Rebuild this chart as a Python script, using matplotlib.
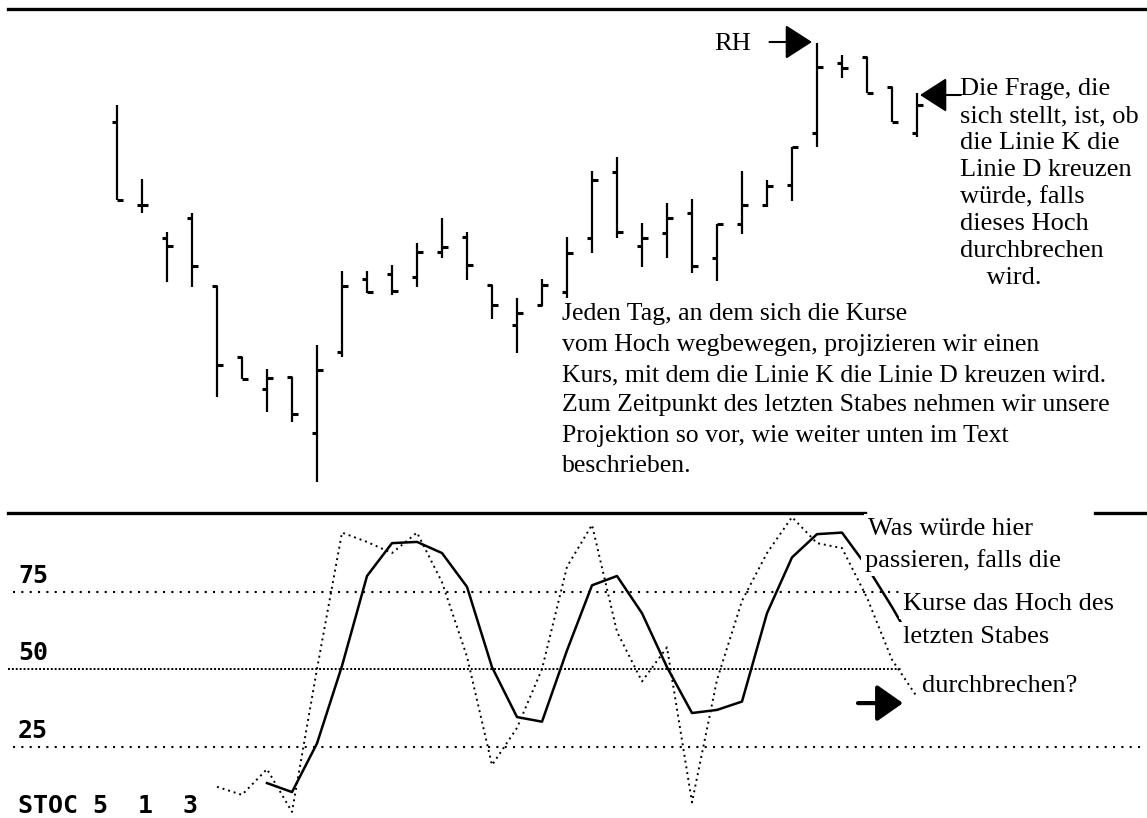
import matplotlib.pyplot as plt

W, H = 1147, 818
fig = plt.figure(figsize=(W / 100, H / 100), dpi=100)


def fx(x):
    return x / W


def fy(y):
    return 1 - y / H


# --- bar chart data (price units), one bar per day ---
high = [395, 321, 268, 287, 214, 143, 131, 123, 155, 229, 229, 235, 257, 282, 268, 215, 202,
        221, 263, 329, 343, 277, 297, 301, 276, 329, 320, 353, 457, 445, 443, 413, 407]
low = [300, 287, 218, 213, 103, 121, 88, 78, 18, 143, 207, 205, 213, 242, 220, 181, 147,
       194, 202, 247, 262, 233, 242, 227, 219, 266, 293, 299, 353, 422, 407, 378, 363]
opn = [378, 295, 262, 282, 214, 143, 111, 123, 67, 148, 221, 226, 223, 248, 263, 215, 175,
       195, 208, 262, 328, 254, 267, 287, 242, 276, 295, 315, 367, 437, 443, 413, 367]
cls = [300, 295, 254, 234, 135, 121, 122, 86, 130, 214, 208, 209, 248, 253, 235, 195, 187,
       215, 247, 320, 268, 262, 282, 234, 276, 295, 314, 353, 433, 432, 407, 378, 395]
days = list(range(len(high)))

# --- stochastic 5 1 3 ---
k_start = 4
k_line = [12, 9.4, 17.7, 3.9, 50, 94, 91, 87.4, 94, 78, 54, 19, 31, 50, 83, 96.5, 62, 46,
          57, 7, 46.5, 72, 87.4, 99, 90.6, 89, 73, 53, 41]
d_start = 6
d_line = [13.2, 10.3, 26, 51, 80, 90.6, 91, 87.4, 76.5, 50.6, 34.5, 33, 56, 77, 80, 68,
          50.6, 35.8, 36.8, 39.5, 68, 86, 93.5, 94, 83, 70, 56]
levels = [75, 50, 25]

# x pixel = 117 + 25 * day ; axes start at px 8
xl = ((8 - 117) / 25, (1147 - 117) / 25)

# ---------------- top panel ----------------
ax1 = fig.add_axes([fx(8), fy(492), (1147 - 8) / W, (492 - 9) / H])
ax1.set_xlim(*xl)
ax1.set_ylim(8, 491)
for s in ['left', 'right', 'bottom']:
    ax1.spines[s].set_visible(False)
ax1.spines['top'].set_linewidth(2.4)
ax1.set_xticks([])
ax1.set_yticks([])

tk = 0.22
ax1.vlines(days, low, high, color='black', lw=1.6)
ax1.hlines(opn, [d - tk for d in days], days, color='black', lw=2.2)
ax1.hlines(cls, days, [d + tk for d in days], color='black', lw=2.2)

# RH arrow onto the high of the highest bar
top = high.index(max(high))
ax1.annotate('', xy=(top - 0.2, high[top] + 1), xytext=(top - 1.9, high[top] + 1),
             arrowprops=dict(arrowstyle='-|>,head_length=0.42,head_width=0.27',
                             mutation_scale=40, lw=1.5, color='black',
                             shrinkA=0, shrinkB=0))
last = len(high) - 1
ax1.annotate('', xy=(last + 0.12, high[last] - 2), xytext=(last + 1.75, high[last] - 2),
             arrowprops=dict(arrowstyle='-|>,head_length=0.42,head_width=0.27',
                             mutation_scale=40, lw=1.5, color='black',
                             shrinkA=0, shrinkB=0))

serif = 'Liberation Serif'
fs = 19

fig.text(fx(714), fy(50), 'RH', family=serif, fontsize=fs, va='baseline')

right_lines = ['Die Frage, die', 'sich stellt, ist, ob', 'die Linie K die',
               'Linie D kreuzen', 'würde, falls', 'dieses Hoch', 'durchbrechen',
               '    wird.']
for i, t in enumerate(right_lines):
    fig.text(fx(960), fy(95 + 27 * i), t, family=serif, fontsize=fs, va='baseline')

left_lines = ['Jeden Tag, an dem sich die Kurse',
              'vom Hoch wegbewegen, projizieren wir einen',
              'Kurs, mit dem die Linie K die Linie D kreuzen wird.',
              'Zum Zeitpunkt des letzten Stabes nehmen wir unsere',
              'Projektion so vor, wie weiter unten im Text',
              'beschrieben.']
for i, t in enumerate(left_lines):
    fig.text(fx(562), fy(320 + 30.5 * i), t, family=serif, fontsize=18.5, va='baseline')

# ---------------- bottom panel ----------------
ax2 = fig.add_axes([fx(8), 0, (1147 - 8) / W, (818 - 513) / H])
ax2.set_xlim(*xl)
ax2.set_ylim((824 - 818) / 3.1, (824 - 513) / 3.1)
for s in ax2.spines.values():
    s.set_visible(False)
ax2.set_xticks([])
ax2.set_yticks([])
# top border, broken where the note sits
ax2.plot([0, 0.752], [1, 1], transform=ax2.transAxes, color='black', lw=2.4, clip_on=False)
ax2.plot([0.954, 1], [1, 1], transform=ax2.transAxes, color='black', lw=2.4, clip_on=False)

ax2.axhline(levels[0], xmin=0.004, xmax=0.786, color='black', lw=1.5, ls=(0, (1, 3)))
ax2.axhline(levels[1], xmin=0.0, xmax=0.785, color='black', lw=1.4, ls=(0, (1, 1)))
ax2.axhline(levels[2], xmin=0.004, xmax=0.994, color='black', lw=1.5, ls=(0, (1, 3)))

k_x = days[k_start:k_start + len(k_line)]
d_x = days[d_start:d_start + len(d_line)]
ax2.plot(k_x, k_line, color='black', lw=1.4, ls=(0, (1, 2)))
ax2.plot(d_x, d_line, color='black', lw=1.8)

mono = 'DejaVu Sans Mono'
for lv in levels:
    ax2.text(xl[0] + 10 / 25, lv + 2.9, str(lv), family=mono,
             weight='bold', fontsize=18, va='baseline')
ax2.text(xl[0] + 10 / 25, 3.5, 'STOC 5  1  3', family=mono, weight='bold',
         fontsize=18, va='baseline')

ax2.annotate('', xy=((903 - 117) / 25, 39), xytext=((858 - 117) / 25, 39),
             arrowprops=dict(arrowstyle='-|>,head_length=0.4,head_width=0.28',
                             mutation_scale=40, lw=3, color='black',
                             shrinkA=0, shrinkB=0))

box = dict(facecolor='white', edgecolor='none', pad=3)
notes = [('Was würde hier', 868, 535), ('passieren, falls die', 865, 567),
         ('Kurse das Hoch des', 903, 610), ('letzten Stabes', 903, 643),
         ('durchbrechen?', 922, 692)]
for t, x, y in notes:
    fig.text(fx(x), fy(y), t, family=serif, fontsize=fs, va='baseline', bbox=box, zorder=5)

fig.savefig('out.png', dpi=100, facecolor='white')
